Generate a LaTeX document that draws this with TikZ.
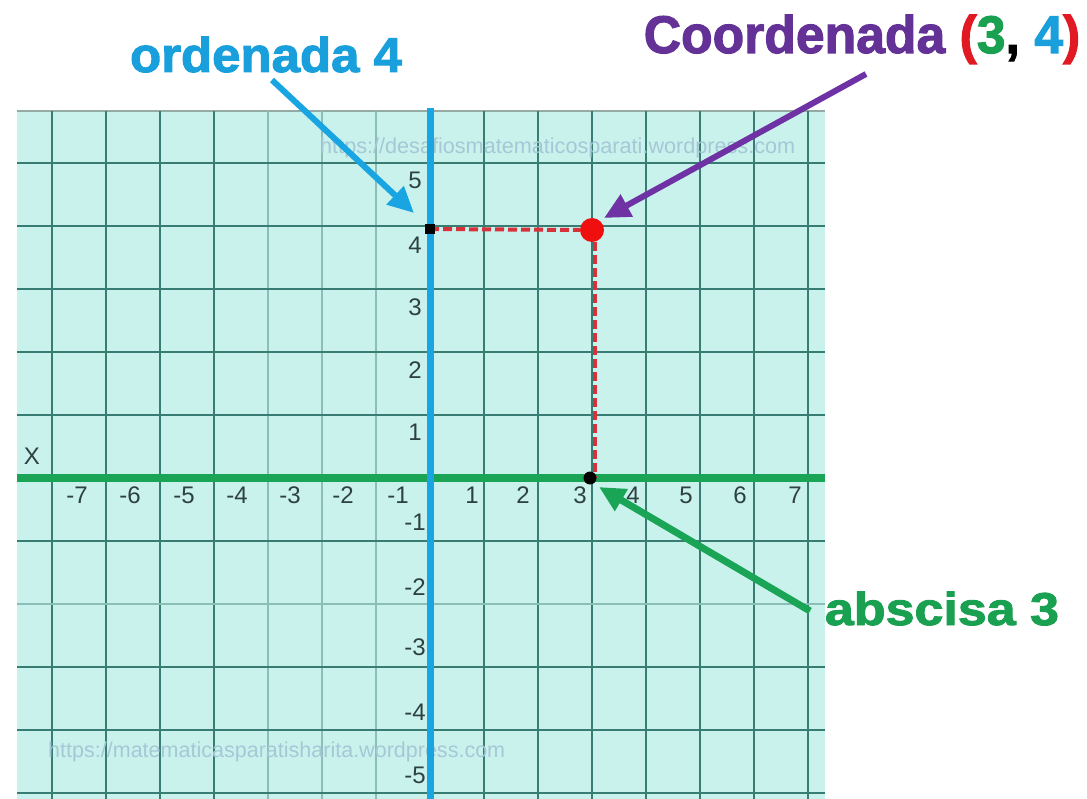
\documentclass[tikz,border=0pt]{standalone}
\usepackage{fontspec}
\usepackage{graphicx}
\setmainfont{Liberation Sans}
\newfontfamily\titlefont[BoldFeatures={FakeBold=2}]{Liberation Sans}
\usetikzlibrary{arrows.meta}
\definecolor{gridbg}{RGB}{202,242,236}
\definecolor{gridline}{RGB}{55,125,115}
\definecolor{gridlight}{RGB}{140,190,185}
\definecolor{gridtop}{RGB}{150,170,165}
\definecolor{axgreen}{RGB}{25,165,85}
\definecolor{axblue}{RGB}{25,165,225}
\definecolor{ptred}{RGB}{240,15,15}
\definecolor{dashred}{RGB}{215,50,60}
\definecolor{arrpurple}{RGB}{110,50,165}
\definecolor{txtpurple}{RGB}{100,50,150}
\definecolor{txtred}{RGB}{225,25,35}
\definecolor{txtgreen}{RGB}{25,160,80}
\definecolor{txtblue}{RGB}{25,160,220}
\definecolor{lbl}{RGB}{45,65,65}
\definecolor{wm}{RGB}{165,200,215}
\tikzset{
  gridmain/.style={draw=gridline, line width=1.8pt},
  gridfaint/.style={draw=gridlight, line width=1.6pt},
  axlbl/.style={text=lbl, font=\fontsize{24}{24}\selectfont, inner sep=0pt},
  wmark/.style={text=wm, font=\fontsize{16}{16}\selectfont, inner sep=0pt, anchor=base west},
  pointer/.style={line width=6pt, -{Triangle[length=26pt,width=24pt]}},
  dashpath/.style={draw=dashred, line width=4pt, dash pattern=on 9pt off 4pt},
  title/.style={inner sep=0pt, anchor=base, font=\titlefont\bfseries}
}
\begin{document}
\begin{tikzpicture}[x=1pt,y=-1pt]
\path[use as bounding box, fill=white] (0,0) rectangle (1087,799);
% grid background
\fill[gridbg] (17,111) rectangle (825,799);
\draw[gridtop, line width=2pt] (17,111) -- (825,111);
% vertical grid lines
\foreach \k in {-7,-6,-5,-4,1,2,3,4,5,6,7}
  \draw[gridmain] ({430+54*\k},111) -- ({430+54*\k},799);
\foreach \k in {-3,-2,-1}
  \draw[gridfaint] ({430+54*\k},111) -- ({430+54*\k},799);
% horizontal grid lines
\foreach \j in {5,4,3,2,1,-1,-3,-4,-5}
  \draw[gridmain] (17,{478-63*\j}) -- (825,{478-63*\j});
\draw[gridfaint] (17,604) -- (825,604);
% watermarks
\node[wmark] (wmtop) at (320,154) {\resizebox{475pt}{!}{https://desafiosmatematicosparati.wordpress.com}};
\node[wmark] (wmbot) at (48,757) {\resizebox{457pt}{!}{https://matematicasparatisharita.wordpress.com}};
% x labels
\foreach \t/\xx in {-7/77,-6/130,-5/184,-4/237,-3/290,-2/343,-1/398,1/472,2/523,3/580,4/633,5/686,6/740,7/795}
  \node[axlbl] (xl\t) at (\xx,495) {\t};
% y labels
\foreach \t/\yy in {5/180,4/245,3/307,2/370,1/432,-1/522,-2/587,-3/647,-4/712,-5/775}
  \node[axlbl] (yl\t) at (415,\yy) {\t};
\node[axlbl] (xname) at (32,456) {X};
% axes
\draw[axgreen, line width=8pt] (17,478) coordinate (xa0) -- (825,478) coordinate (xa1);
\draw[axblue, line width=7pt] (430,108) coordinate (ya0) -- (430,799) coordinate (ya1);
% dashed projections
\coordinate (Y4) at (430,229);
\coordinate (X3) at (593,478);
\node[circle, fill=ptred, minimum size=24pt, inner sep=0pt] (P) at (592,230) {};
\draw[dashpath] (Y4) -- (P.west);
\draw[dashpath] (P.south) ++(3,0) -- ++(0,236);
\node[rectangle, fill=black, minimum size=10pt, inner sep=0pt] (dY) at (Y4) {};
\node[circle, fill=black, minimum size=13pt, inner sep=0pt] (dX) at (590,478) {};
% titles
\node[title] (ord) at (266,72) {\scalebox{1.04}[1]{\fontsize{49}{49}\selectfont\color{txtblue}ordenada 4}};
\node[title] (coord) at (862,53) {\scalebox{0.975}[1]{\fontsize{53}{53}\selectfont\color{txtpurple}Coordenada \textcolor{txtred}{(}\textcolor{txtgreen}{3}\textcolor{black}{,} \textcolor{txtblue}{4}\textcolor{txtred}{)}}};
\node[title] (absc) at (942,625) {\scalebox{1.13}[1]{\fontsize{46}{46}\selectfont\color{txtgreen}abscisa 3}};
% pointer arrows
\coordinate (ordtail) at (272,80);
\coordinate (ordtip) at (414,213);
\coordinate (coordtail) at (866,74);
\coordinate (coordtip) at (604,218);
\coordinate (abstail) at (810,611);
\coordinate (abstip) at (599,487);
\draw[pointer, draw=axblue, fill=axblue] (ordtail) -- (ordtip);
\draw[pointer, draw=arrpurple, fill=arrpurple] (coordtail) -- (coordtip);
\draw[pointer, draw=axgreen, fill=axgreen, line width=7pt] (abstail) -- (abstip);
\end{tikzpicture}
\end{document}
